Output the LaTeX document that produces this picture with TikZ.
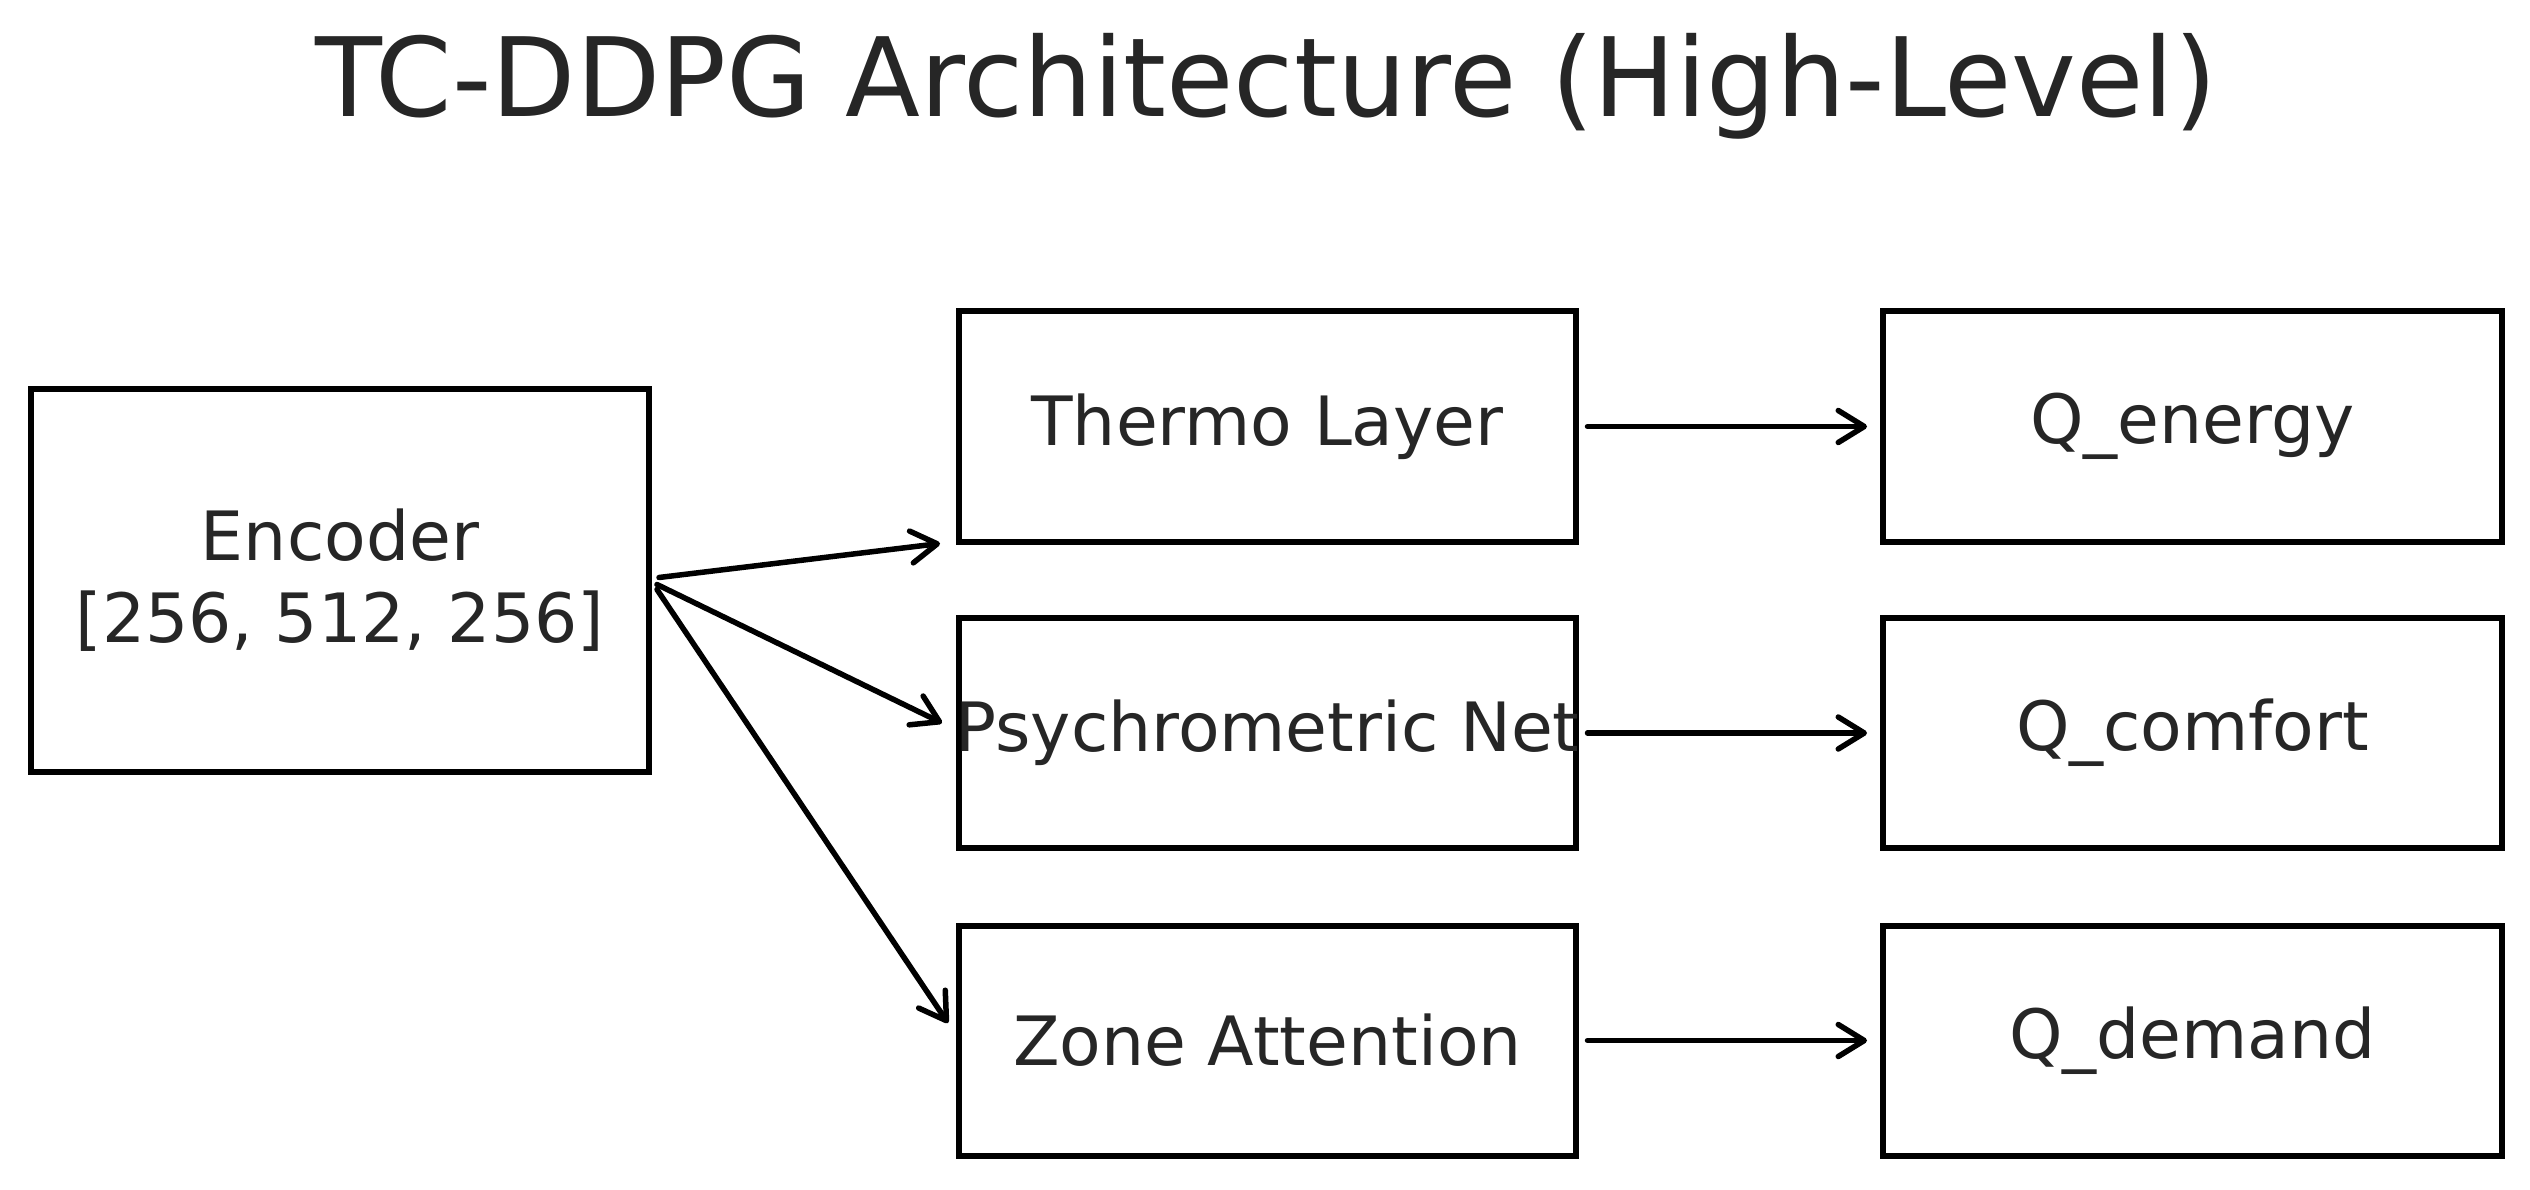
\documentclass[tikz,border=0pt]{standalone}
\usepackage{fontspec}
\setmainfont{DejaVu Sans}
\usetikzlibrary{arrows.meta,calc}
\definecolor{txt}{RGB}{38,38,38}
\begin{document}
\begin{tikzpicture}[x=1pt,y=-1pt,
  box/.style={draw=black,line width=6pt,minimum width=618pt,minimum height=230pt,
    inner sep=0pt,outer sep=0pt,text=txt,font=\fontsize{68}{82}\selectfont,align=center},
  arr/.style={line width=5.5pt,line cap=round,
    -{Straight Barb[length=26pt,width=32pt,line width=5.5pt,round]}}]
\useasboundingbox (0,0) rectangle (2530,1190);
\fill[white] (0,0) rectangle (2530,1190);
\node[anchor=base,text=txt,inner sep=0pt,font=\fontsize{109.5}{130}\selectfont] (title) at (1266,117) {TC-DDPG Architecture (High-Level)};
\node[box,minimum height=383pt] (enc) at (340,580.5) {Encoder\\{[256, 512, 256]}};
\node[box,minimum width=617pt] (thermo) at (1267.5,426.5) {Thermo Layer};
\node[box,minimum width=617pt] (psy) at (1267.5,733) {\makebox[0pt][c]{Psychrometric Net}};
\node[box,minimum width=617pt] (zone) at (1267.5,1040.5) {Zone Attention};
\node[box,minimum width=619pt] (qe) at (2192.5,426.5) {Q\_energy};
\node[box,minimum width=619pt] (qc) at (2192.5,733) {Q\_comfort};
\node[box,minimum width=619pt] (qd) at (2192.5,1040.5) {Q\_demand};
\draw[arr] ([shift={(10,-3)}]enc.east) -- ([shift={(-19,2)}]thermo.south west);
\draw[arr] ([shift={(8,4)}]enc.east) -- ([shift={(-17,-10)}]psy.west);
\draw[arr] ([shift={(8,9)}]enc.east) -- ([shift={(-11,-17.5)}]zone.west);
\draw[arr,shorten <=11.5pt,shorten >=16pt] (thermo) -- (qe);
\draw[arr,shorten <=11.5pt,shorten >=16pt] (psy) -- (qc);
\draw[arr,shorten <=11.5pt,shorten >=16pt] (zone) -- (qd);
\end{tikzpicture}
\end{document}
